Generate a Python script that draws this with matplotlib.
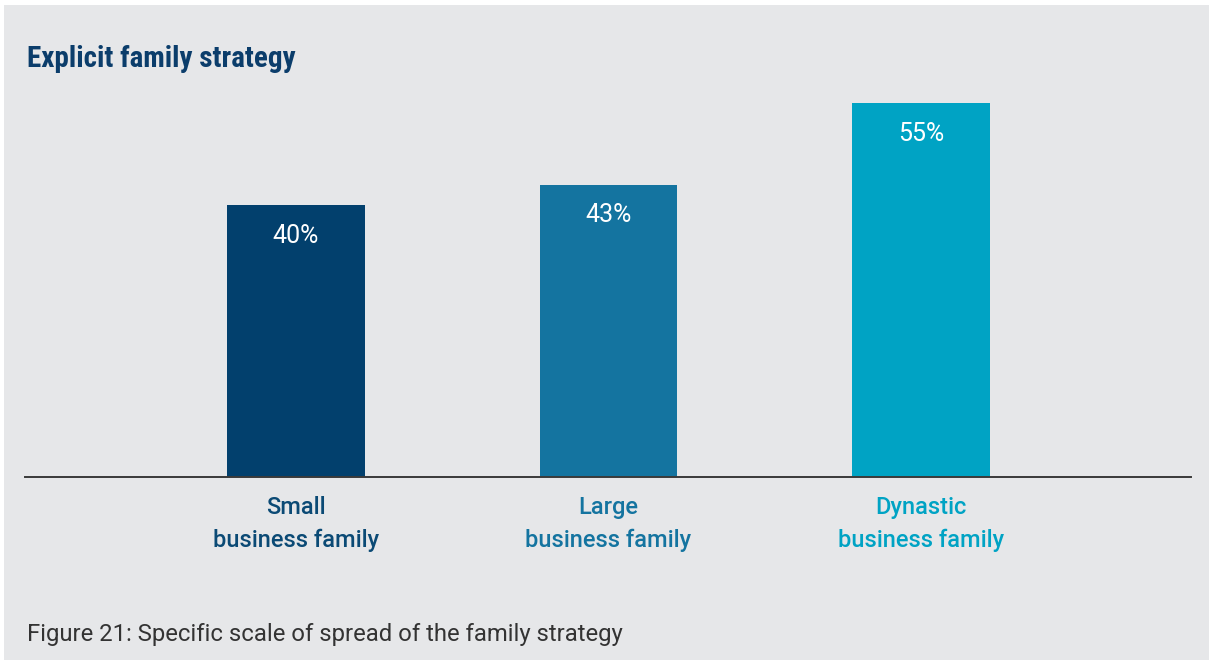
import matplotlib
matplotlib.use("Agg")
import matplotlib.pyplot as plt
from matplotlib.patches import Rectangle

# --- data ---
categories = ["Small\nbusiness family", "Large\nbusiness family", "Dynastic\nbusiness family"]
values = [40, 43, 55]
bar_colors = ["#02406d", "#1474a0", "#00a3c4"]
label_colors = ["#0b4a75", "#1474a0", "#00a3c4"]
title = "Explicit family strategy"
caption = "Figure 21: Specific scale of spread of the family strategy"

W, H = 1209, 660
fig = plt.figure(figsize=(W / 100, H / 100), dpi=100, facecolor="white")

# grey panel behind everything
fig.patches.append(Rectangle((4 / W, 0), 1 - 4 / W, (H - 5) / H, transform=fig.transFigure,
                             facecolor="#e6e7e9", edgecolor="none", zorder=-10))

ax_left, ax_right = 25 / W, 1191 / W
ax_bottom, ax_top = (H - 477) / H, (H - 80) / H
ax = fig.add_axes([ax_left, ax_bottom, ax_right - ax_left, ax_top - ax_bottom])
ax.set_facecolor("none")

x = list(range(len(values)))
ax.bar(x, values, width=0.44, color=bar_colors, zorder=2)
ax.set_xlim(-0.867, 2.864)
ax.set_ylim(0, (477 - 80) / 6.8)

for xi, v in zip(x, values):
    ax.text(xi, v - 4.5, f"{v}%", ha="center", va="center", color="white",
            fontsize=18, family=["Roboto", "DejaVu Sans"], zorder=3)

for s in ["top", "right", "left"]:
    ax.spines[s].set_visible(False)
ax.spines["bottom"].set_color("#3a3a3a")
ax.spines["bottom"].set_linewidth(1.4)
ax.spines["bottom"].set_zorder(4)
ax.set_yticks([])
ax.set_xticks(x)
ax.set_xticklabels(categories, fontsize=17, family=["Roboto", "DejaVu Sans"],
                   fontweight="medium", linespacing=1.5)
ax.tick_params(axis="x", length=0, pad=14)
for lbl, c in zip(ax.get_xticklabels(), label_colors):
    lbl.set_color(c)

fig.text(27 / W, 1 - 67 / H, title, fontsize=21, fontweight="bold", color="#0b3d6b",
         family=["Roboto Condensed", "Liberation Sans Narrow", "DejaVu Sans"], va="baseline")
fig.text(27 / W, 1 - 641 / H, caption, fontsize=17.2, color="#333333",
         family=["Roboto", "DejaVu Sans"], va="baseline")

fig.savefig("out.png", dpi=100, facecolor="white")
